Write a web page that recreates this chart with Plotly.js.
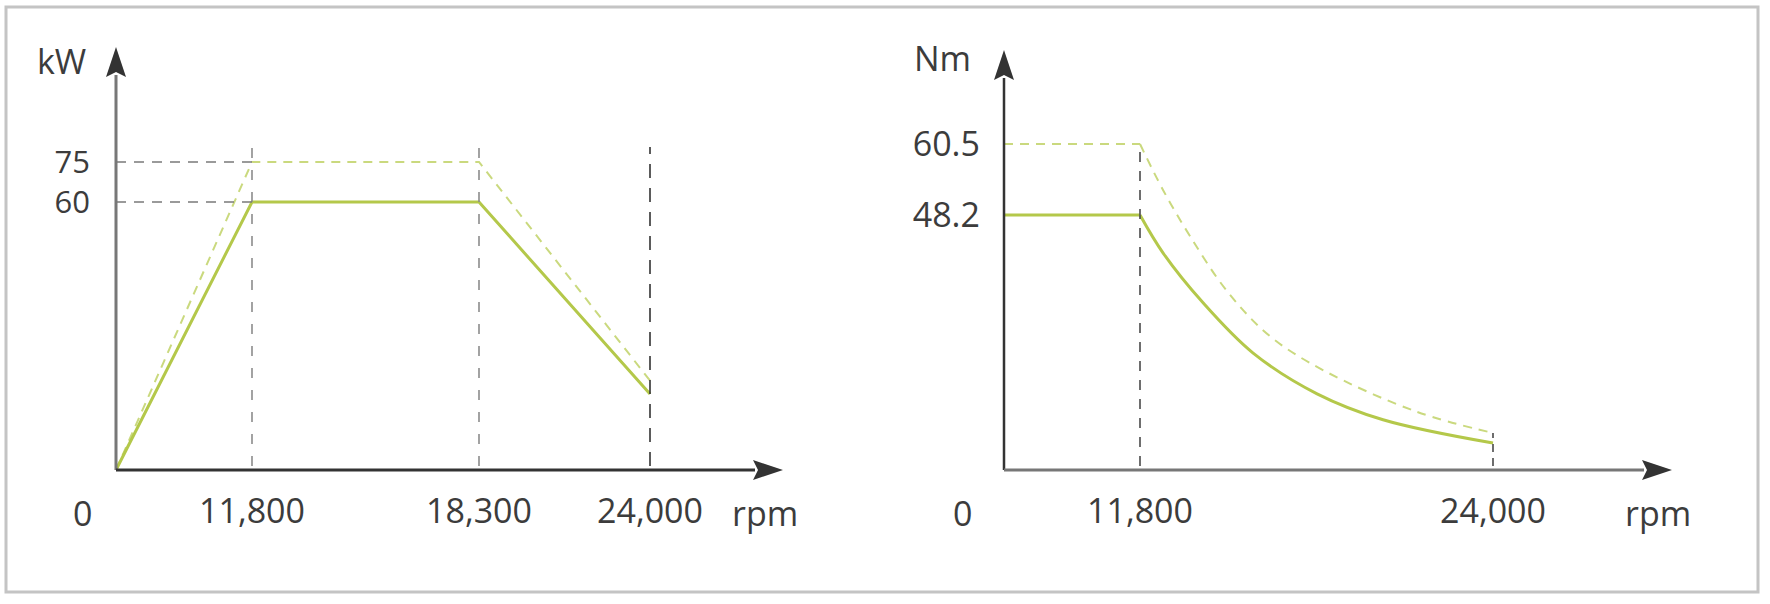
<!DOCTYPE html>
<html>
<head>
<meta charset="utf-8">
<script src="https://cdn.plot.ly/plotly-3.0.1.min.js"></script>
<style>
  html, body { margin: 0; padding: 0; background: #fff; }
  #chart { width: 1770px; height: 604px; }
</style>
</head>
<body>
<div id="chart"></div>
<script>
// power curve (kW vs rpm)
const powerRpm = [0, 11800, 18300, 24000];
const powerCont = [0, 60, 60, 17];
const powerPeak = [0, 75, 75, 20];
const powerTicksRpm = [11800, 18300, 24000];
const powerTicksKw = [60, 75];

// torque curve (Nm vs rpm)
const torqueRpmCont = [0, 11800, 12600, 13980, 15710, 17920, 20200, 24000];
const torqueCont = [48.2, 48.2, 41.0, 31.6, 22.1, 14.4, 9.5, 5.1];
const torqueRpmPeak = [0, 11800, 12600, 13530, 14810, 16290, 18120, 21370, 24000];
const torquePeak = [60.5, 60.5, 52.5, 44.2, 33.8, 25.3, 18.9, 11.0, 7.0];
const torqueTicksRpm = [11800, 24000];
const torqueTicksNm = [48.2, 60.5];

// the drawing is a schematic, axes are not to scale -> piecewise axis maps
function schematic(vals, pos) {
  return v => {
    for (let i = 1; i < vals.length; i++) {
      if (v <= vals[i] || i === vals.length - 1) {
        const t = (v - vals[i - 1]) / (vals[i] - vals[i - 1]);
        return pos[i - 1] + t * (pos[i] - pos[i - 1]);
      }
    }
  };
}
const pX = schematic([0, 11800, 18300, 24000], [0, 136, 363, 534]);
const pY = schematic([0, 60, 75], [0, 268, 308]);
const tX = schematic([0, 11800, 24000], [0, 136, 489]);
const tY = schematic([0, 48.2, 60.5], [0, 255, 326]);

const green = '#b4c84a';
const greenLight = '#cad97e';
const ink = '#3c3c3c';
const fmt = v => v.toLocaleString('en-US');
const labelFont = { family: 'Open Sans, DejaVu Sans, sans-serif', size: 34, color: ink };
const peakDash = '9px,7px';

// torque: flat part straight, field-weakening part smoothed
function torqueTraces(rpm, nm, style) {
  return [
    { x: rpm.slice(0, 2).map(tX), y: nm.slice(0, 2).map(tY), xaxis: 'x2', yaxis: 'y2', mode: 'lines',
      line: Object.assign({}, style) },
    { x: rpm.slice(1).map(tX), y: nm.slice(1).map(tY), xaxis: 'x2', yaxis: 'y2', mode: 'lines',
      line: Object.assign({ shape: 'spline', smoothing: 1 }, style) }
  ];
}

const data = [
  { x: powerRpm.map(pX), y: powerPeak.map(pY), xaxis: 'x', yaxis: 'y', mode: 'lines',
    line: { color: greenLight, width: 2, dash: peakDash } },
  { x: powerRpm.map(pX), y: powerCont.map(pY), xaxis: 'x', yaxis: 'y', mode: 'lines',
    line: { color: green, width: 3 } }
].concat(
  torqueTraces(torqueRpmPeak, torquePeak, { color: greenLight, width: 2, dash: peakDash }),
  torqueTraces(torqueRpmCont, torqueCont, { color: green, width: 3 })
);

function axisBase() {
  return { showgrid: false, zeroline: false, showline: false, ticks: '', tickmode: 'array',
           tickfont: labelFont, fixedrange: true };
}

const guideTop = pY(75) + 15;
const shapes = [
  // frame
  { type: 'rect', xref: 'paper', yref: 'paper', x0: 6 / 1770, x1: 1758 / 1770, y0: 1 - 592 / 604, y1: 1 - 7 / 604,
    line: { color: '#c4c4c4', width: 3 } }
];
function vguide(xr, yr, x, y1, color, dash) {
  shapes.push({ type: 'line', xref: xr, yref: yr, x0: x, x1: x, y0: 4, y1: y1,
    line: { color: color, width: 1.6, dash: dash } });
}
function hguide(xr, yr, x1, y, color) {
  shapes.push({ type: 'line', xref: xr, yref: yr, x0: 0, x1: x1, y0: y, y1: y,
    line: { color: color, width: 1.6, dash: '10px,8px' } });
}
vguide('x', 'y', pX(11800), guideTop, '#8c8c8c', '10px,12px');
vguide('x', 'y', pX(18300), guideTop, '#8c8c8c', '10px,12px');
vguide('x', 'y', pX(24000), guideTop, '#333333', '14px,10px');
powerTicksKw.forEach(k => hguide('x', 'y', pX(11800), pY(k), '#7a7a7a'));
vguide('x2', 'y2', tX(11800), tY(60.5), '#4a4a4a', '10px,9px');
vguide('x2', 'y2', tX(24000), tY(torquePeak[torquePeak.length - 1]), '#4a4a4a', '8px,6px');

// axis lines with arrow heads
function axisLines(xr, yr, yTip, xTip, yCol, xCol, yW) {
  shapes.push({ type: 'line', xref: xr, yref: yr, x0: 0, x1: 0, y0: 0, y1: yTip - 28,
    line: { color: yCol, width: yW } });
  shapes.push({ type: 'line', xref: xr, yref: yr, x0: 0, x1: xTip - 28, y0: 0, y1: 0,
    line: { color: xCol, width: 3 } });
  shapes.push({ type: 'path', xref: xr, yref: yr, fillcolor: '#333', line: { width: 0 },
    path: `M0,${yTip} L-10,${yTip - 30} L0,${yTip - 25} L10,${yTip - 30} Z` });
  shapes.push({ type: 'path', xref: xr, yref: yr, fillcolor: '#333', line: { width: 0 },
    path: `M${xTip},0 L${xTip - 30},10 L${xTip - 25},0 L${xTip - 30},-10 Z` });
}
axisLines('x', 'y', 423, 667, '#777', '#333', 3);
axisLines('x2', 'y2', 420, 668, '#333', '#777', 2.5);

function note(xr, yr, x, y, text) {
  return { xref: xr, yref: yr, x: x, y: y, text: text, showarrow: false,
           xanchor: 'center', yanchor: 'middle', font: labelFont };
}
const annotations = [
  note('x', 'y', -34, -43, '0'),
  note('x', 'y', 649, -43, 'rpm'),
  note('x', 'y', -55, 409, 'kW'),
  note('x2', 'y2', -42, -43, '0'),
  note('x2', 'y2', 654, -43, 'rpm'),
  note('x2', 'y2', -62, 412, 'Nm')
];

const layout = {
  width: 1770, height: 604,
  margin: { l: 0, r: 0, t: 0, b: 0 },
  paper_bgcolor: '#fff', plot_bgcolor: 'rgba(0,0,0,0)',
  showlegend: false, hovermode: false,
  xaxis: Object.assign(axisBase(), { domain: [0, 0.5], range: [-116, 769], anchor: 'free', position: 134 / 604,
    tickvals: powerTicksRpm.map(pX), ticktext: powerTicksRpm.map(fmt), ticklabelstandoff: 18 }),
  yaxis: Object.assign(axisBase(), { domain: [0, 1], range: [-134, 470], anchor: 'free', position: 116 / 1770,
    tickvals: powerTicksKw.map(pY), ticktext: powerTicksKw.map(String), ticklabelstandoff: 26,
    tickfont: Object.assign({}, labelFont, { size: 31 }) }),
  xaxis2: Object.assign(axisBase(), { domain: [0.5, 1], range: [-119, 766], anchor: 'free', position: 134 / 604,
    tickvals: torqueTicksRpm.map(tX), ticktext: torqueTicksRpm.map(fmt), ticklabelstandoff: 18 }),
  yaxis2: Object.assign(axisBase(), { domain: [0, 1], range: [-134, 470], anchor: 'free', position: 1004 / 1770,
    tickvals: torqueTicksNm.map(tY), ticktext: torqueTicksNm.map(String), ticklabelstandoff: 24 }),
  shapes: shapes,
  annotations: annotations
};

Plotly.newPlot('chart', data, layout, { displayModeBar: false, staticPlot: true });
</script>
</body>
</html>
